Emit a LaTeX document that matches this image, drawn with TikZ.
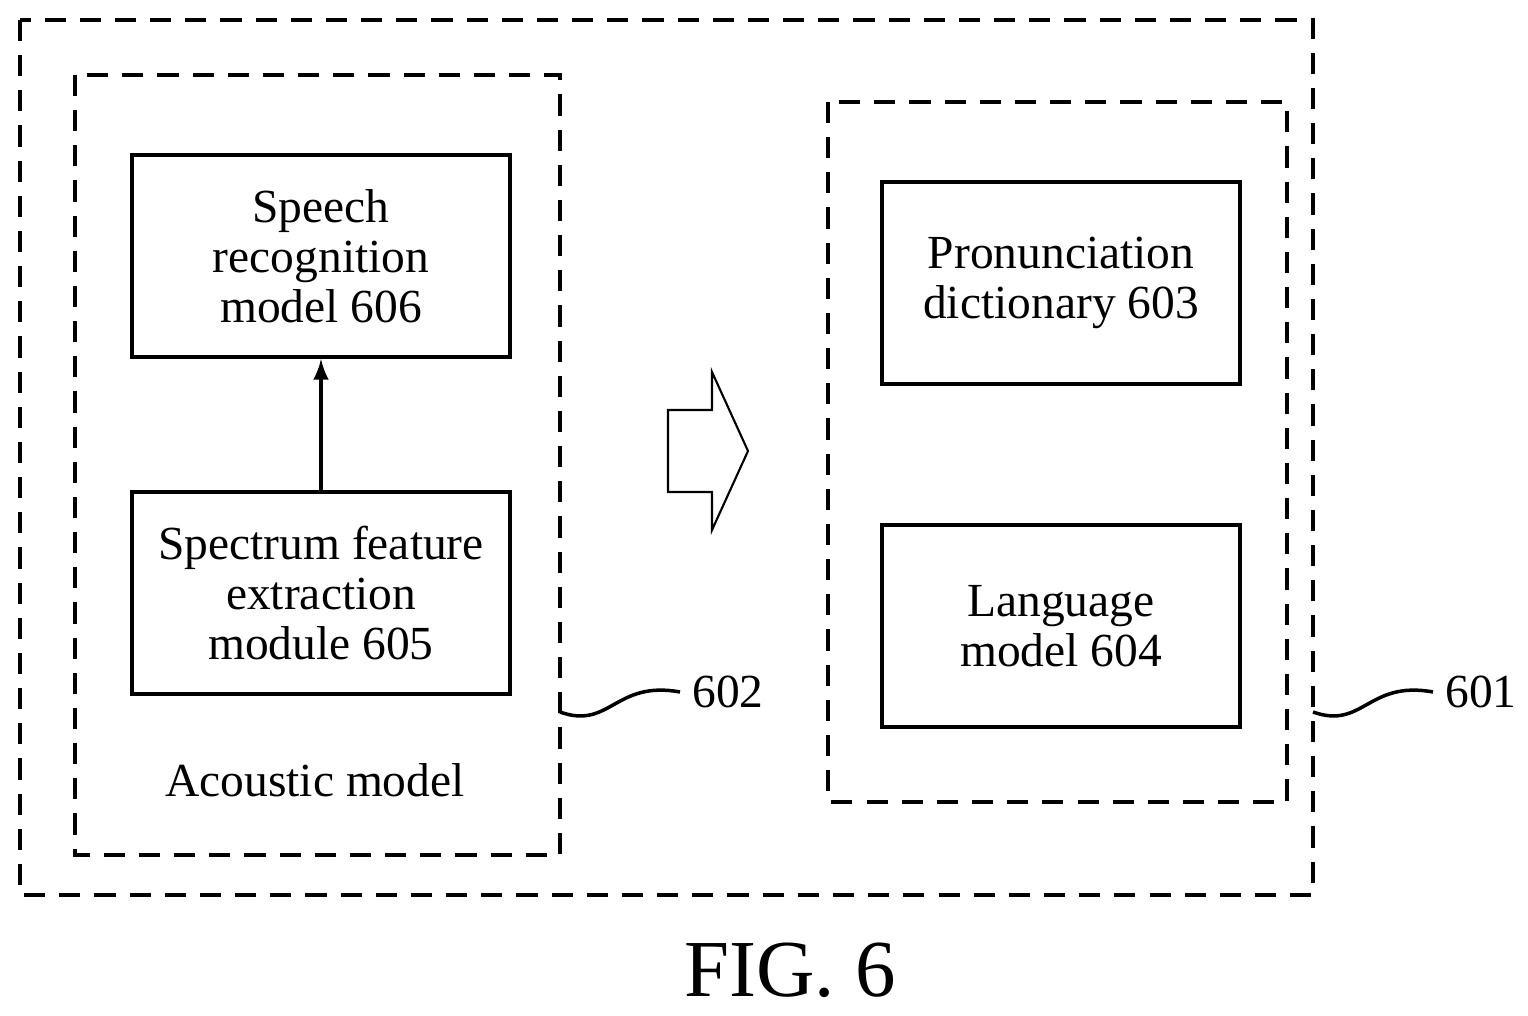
\documentclass[tikz,border=0pt]{standalone}
\usepackage{fontspec}
\setmainfont{Liberation Serif}
\tikzset{every picture/.style={x=0.01cm,y=-0.01cm}}
\tikzset{group/.style={draw,dashed,line width=1.2pt,dash pattern=on 6pt off 4pt}}
\tikzset{block/.style={draw,line width=1.2pt,align=center,font=\fontsize{13.5}{14.2}\selectfont}}
\tikzset{edge/.style={line width=1pt,-latex}}
\tikzset{callout/.style={font=\fontsize{13.5}{14.2}\selectfont}}
\begin{document}
\begin{tikzpicture}
\useasboundingbox (0,0) rectangle (1528,1016);
\draw [group] (20,20) rectangle (1313,895);
\draw [group] (75,75) rectangle (560,855);
\draw [group] (828,102) rectangle (1287,802);
\node [block,minimum width=378*0.01cm,minimum height=202*0.01cm] (speech) at (321,256) {Speech\\recognition\\model 606};
\node [block,minimum width=378*0.01cm,minimum height=202*0.01cm] (spec) at (321,593) {Spectrum feature\\extraction\\module 605};
\node [block,minimum width=358*0.01cm,minimum height=202*0.01cm] (pron) at (1061,283) {Pronunciation\\dictionary 603};
\node [block,minimum width=358*0.01cm,minimum height=202*0.01cm] (lang) at (1061,626) {Language\\model 604};
\draw [edge] (spec) -- (speech);
\draw [line width=0.6pt] (668,410) -- (712,410) -- (712,372) -- (748,451) -- (712,530) -- (712,492) -- (668,492) -- cycle;
\node [callout] (acoustic) at (315,780) {Acoustic model};
\coordinate (c602) at (560,712);
\node [callout,anchor=west] (l602) at (680,692) {602};
\draw [line width=1pt] (c602) .. controls (610,730) and (615,680) .. (l602.west);
\coordinate (c601) at (1313,712);
\node [callout,anchor=west] (l601) at (1433,692) {601};
\draw [line width=1pt] (c601) .. controls (1363,730) and (1368,680) .. (l601.west);
\node [font=\fontsize{23}{26}\selectfont] (fig) at (790,970) {FIG. 6};
\end{tikzpicture}
\end{document}
